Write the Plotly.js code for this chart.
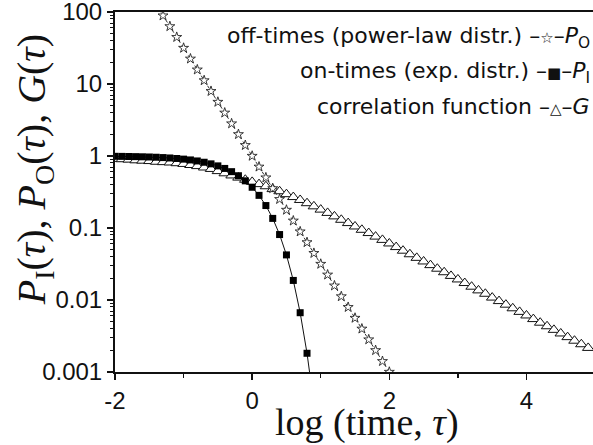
<!DOCTYPE html>
<html>
<head>
<meta charset="utf-8">
<script src="https://cdn.plot.ly/plotly-3.0.1.min.js"></script>
<style>html,body{margin:0;padding:0;background:#fff;}#chart{width:593px;height:445px;}</style>
</head>
<body>
<div id="chart"></div>
<script>
// log10(time) positions
const xOff = [-1.4,-1.3,-1.2,-1.1,-1.0,-0.9,-0.8,-0.7,-0.6,-0.5,-0.4,-0.3,-0.2,-0.1,0.0,0.1,0.2,0.3,0.4,0.5,0.6,0.7,0.8,0.9,1.0,1.1,1.2,1.3,1.4,1.5,1.6,1.7,1.8,1.9,2.0,2.1];
const offTimes = [125.9,89.1,63.1,44.7,31.6,22.4,15.8,11.2,7.94,5.62,3.98,2.82,2.00,1.41,1.00,0.708,0.501,0.355,0.251,0.178,0.126,0.0891,0.0631,0.0447,0.0316,0.0224,0.0158,0.0112,0.00794,0.00562,0.00398,0.00282,0.00200,0.00141,0.00100,0.000708];

const xOn = [-2.0,-1.9,-1.8,-1.7,-1.6,-1.5,-1.4,-1.3,-1.2,-1.1,-1.0,-0.9,-0.8,-0.7,-0.6,-0.5,-0.4,-0.3,-0.2,-0.1,0.0,0.1,0.2,0.3,0.4,0.5,0.6,0.7,0.8,0.9];
const onTimes = [0.990,0.9875,0.984,0.980,0.975,0.969,0.961,0.951,0.939,0.924,0.905,0.882,0.854,0.819,0.778,0.729,0.672,0.606,0.532,0.452,0.368,0.284,0.205,0.136,0.0811,0.0423,0.0187,0.00666,0.00182,0.000356];

const xCorr = [-2.0,-1.9,-1.8,-1.7,-1.6,-1.5,-1.4,-1.3,-1.2,-1.1,-1.0,-0.9,-0.8,-0.7,-0.6,-0.5,-0.4,-0.3,-0.2,-0.1,0.0,0.1,0.2,0.3,0.4,0.5,0.6,0.7,0.8,0.9,1.0,1.1,1.2,1.3,1.4,1.5,1.6,1.7,1.8,1.9,2.0,2.1,2.2,2.3,2.4,2.5,2.6,2.7,2.8,2.9,3.0,3.1,3.2,3.3,3.4,3.5,3.6,3.7,3.8,3.9,4.0,4.1,4.2,4.3,4.4,4.5,4.6,4.7,4.8,4.9];
const corrFunc = [0.912,0.902,0.891,0.871,0.861,0.851,0.832,0.822,0.813,0.794,0.776,0.750,0.724,0.692,0.661,0.617,0.575,0.537,0.501,0.468,0.437,0.407,0.380,0.347,0.324,0.295,0.269,0.245,0.221,0.200,0.180,0.162,0.145,0.130,0.117,0.105,0.0944,0.0851,0.0759,0.0684,0.0610,0.0543,0.0484,0.0432,0.0385,0.0343,0.0305,0.0272,0.0243,0.0216,0.0193,0.0172,0.0153,0.0136,0.0122,0.0108,0.00966,0.00861,0.00767,0.00684,0.00610,0.00543,0.00484,0.00432,0.00385,0.00343,0.00305,0.00272,0.00243,0.00216];

const xTickVals = [-2, 0, 2, 4];
const xTickText = ["-2", "0", "2", "4"];
const yTickVals = [0.001, 0.01, 0.1, 1, 10, 100];
const yTickText = ["0.001", "0.01", "0.1", "1", "10", "100"];

const legendLines = [
  "off-times (power-law distr.) –<span style=\"font-size:15px\">☆</span>–<i>P</i><sub>O</sub>",
  "on-times (exp. distr.) –<span style=\"font-size:15px\">■</span>–<i>P</i><sub>I</sub>",
  "correlation function –<span style=\"font-size:15px\">△</span>–<i>G</i>"
];

const traces = [
  {x: xCorr, y: corrFunc, mode: 'lines+markers', type: 'scatter',
   line: {color: '#555', width: 1},
   marker: {symbol: 'triangle-up', size: 10, color: '#fff', line: {color: '#111', width: 1}}},
  {x: xOn, y: onTimes, mode: 'lines+markers', type: 'scatter',
   line: {color: '#111', width: 1},
   marker: {symbol: 'square', size: 7, color: '#000', line: {color: '#000', width: 0}}},
  {x: xOff, y: offTimes, mode: 'lines+markers', type: 'scatter',
   line: {color: '#333', width: 1, dash: 'dot'},
   marker: {symbol: 'star', size: 7.5, color: '#fff', line: {color: '#222', width: 0.9}}}
];

const layout = {
  width: 593, height: 445,
  margin: {l: 115, r: 0, t: 12, b: 73},
  paper_bgcolor: '#fff', plot_bgcolor: '#fff',
  showlegend: false,
  font: {family: 'Liberation Sans, Arial, sans-serif', size: 24, color: '#111'},
  xaxis: {
    range: [-2, 4.97], showgrid: false, zeroline: false,
    showline: true, linecolor: '#111', linewidth: 2, mirror: true,
    ticks: 'outside', ticklen: 6, tickwidth: 1.5, tickcolor: '#111',
    tickmode: 'array', tickvals: xTickVals, ticktext: xTickText,
    minor: {dtick: 1, ticks: 'outside', ticklen: 4, tickcolor: '#111', tickwidth: 1.5},
    tickfont: {size: 24}, ticklabeloverflow: 'allow'
  },
  yaxis: {
    type: 'log', range: [-3, 2], showgrid: false, zeroline: false,
    showline: true, linecolor: '#111', linewidth: 2,
    ticks: 'outside', ticklen: 6, tickwidth: 1.5, tickcolor: '#111',
    tickmode: 'array', tickvals: yTickVals, ticktext: yTickText,
    minor: {dtick: 'D1', ticks: 'outside', ticklen: 3, tickcolor: '#111', tickwidth: 1},
    tickfont: {size: 24}, ticklabeloverflow: 'allow'
  },
  annotations: [
    {xref: 'paper', yref: 'paper', x: 0.527, y: -0.141, xanchor: 'center', yanchor: 'middle',
     showarrow: false, text: 'log (time, <i>τ</i>)',
     font: {family: 'Liberation Serif, Times New Roman, serif', size: 38, color: '#111'}},
    {xref: 'paper', yref: 'paper', x: -0.169, y: 0.561, xanchor: 'center', yanchor: 'middle',
     showarrow: false, textangle: -90,
     text: '<i>P</i><sub>I</sub>(<i>τ</i>), <i>P</i><sub>O</sub>(<i>τ</i>), <i>G</i>(<i>τ</i>)',
     font: {family: 'Liberation Serif, Times New Roman, serif', size: 40, color: '#111'}},
    {xref: 'paper', yref: 'paper', x: 0.998, y: (372-38)/360, xanchor: 'right', yanchor: 'middle',
     showarrow: false, text: legendLines[0],
     font: {family: 'DejaVu Sans, sans-serif', size: 22, color: '#111'}},
    {xref: 'paper', yref: 'paper', x: 0.998, y: (372-73)/360, xanchor: 'right', yanchor: 'middle',
     showarrow: false, text: legendLines[1],
     font: {family: 'DejaVu Sans, sans-serif', size: 22, color: '#111'}},
    {xref: 'paper', yref: 'paper', x: 0.998, y: (372-107)/360, xanchor: 'right', yanchor: 'middle',
     showarrow: false, text: legendLines[2],
     font: {family: 'DejaVu Sans, sans-serif', size: 22, color: '#111'}}
  ]
};

Plotly.newPlot('chart', traces, layout, {staticPlot: true, displayModeBar: false});
</script>
</body>
</html>
